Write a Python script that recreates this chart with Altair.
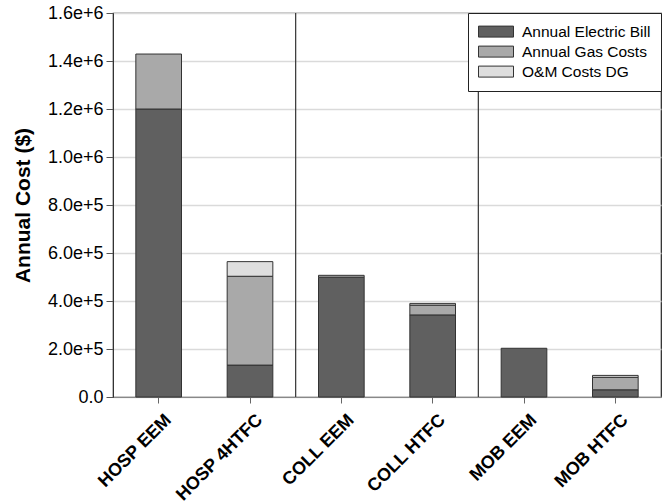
import altair as alt
import pandas as pd

# Scenarios along the x axis (three building types, two options each)
scenarios = ["HOSP EEM", "HOSP 4HTFC", "COLL EEM", "COLL HTFC", "MOB EEM", "MOB HTFC"]

# Annual cost components in dollars
electric_bill = [1200000, 133000, 499000, 342000, 203000, 30000]
gas_costs = [229000, 370000, 8000, 41000, 0, 52000]
om_costs_dg = [0, 61000, 0, 7000, 0, 8000]

components = ["Annual Electric Bill", "Annual Gas Costs", "O&M Costs DG"]
component_colors = ["#606060", "#a9a9a9", "#dedede"]

# Dividers drawn after the last scenario of each building type
group_ends = ["HOSP 4HTFC", "COLL HTFC"]

rows = []
for i, s in enumerate(scenarios):
    for k, (name, vals) in enumerate(zip(components, [electric_bill, gas_costs, om_costs_dg])):
        if vals[i] > 0:
            rows.append({"scenario": s, "component": name, "cost": vals[i], "order": k})
df = pd.DataFrame(rows)
div_df = pd.DataFrame({"scenario": group_ends})

FONT = "Liberation Sans"

x_enc = alt.X(
    "scenario:N",
    sort=scenarios,
    scale=alt.Scale(domain=scenarios, paddingInner=0, paddingOuter=0),
    axis=alt.Axis(
        title=None,
        labelAngle=-45,
        labelAlign="right",
        labelBaseline="middle",
        labelFont=FONT,
        labelFontSize=18,
        labelFontWeight="bold",
        labelColor="black",
        labelPadding=14,
        labelOffset=10,
        labelLimit=300,
        labelOverlap=False,
        tickSize=6,
        tickColor="#666",
        domainColor="#888",
    ),
)

bars = alt.Chart(df).mark_bar(
    width={"band": 0.5}, stroke="#333", strokeWidth=1
).encode(
    x=x_enc,
    y=alt.Y(
        "sum(cost):Q",
        stack="zero",
        scale=alt.Scale(domain=[0, 1600000], nice=False),
        axis=alt.Axis(
            title="Annual Cost ($)",
            titleFont=FONT,
            titleFontSize=21,
            titleFontWeight="bold",
            titleColor="black",
            titleX=-80,
            titleY=192,
            values=[i * 200000 for i in range(9)],
            labelExpr="datum.value == 0 ? '0.0' : format(datum.value, '.1e')",
            labelFont=FONT,
            labelFontSize=18,
            labelColor="black",
            labelPadding=3,
            tickSize=7,
            tickColor="#555",
            domainColor="#333",
            grid=True,
            gridColor="#dadada",
            gridWidth=1.5,
        ),
    ),
    color=alt.Color(
        "component:N",
        scale=alt.Scale(domain=components, range=component_colors),
        legend=alt.Legend(
            title=None,
            orient="top-right",
            offset=0,
            padding=10,
            fillColor="white",
            strokeColor="#222",
            symbolType="M-1,-0.314H1V0.314H-1Z",
            symbolSize=1225,
            symbolStrokeColor="#333",
            symbolStrokeWidth=1,
            symbolOpacity=1,
            labelFont=FONT,
            labelFontSize=15.5,
            labelColor="black",
            labelOffset=8,
            clipHeight=17.2,
            rowPadding=2,
        ),
    ),
    order=alt.Order("order:Q", sort="ascending"),
)

dividers = alt.Chart(div_df).mark_rule(color="#333", strokeWidth=1.2).encode(
    x=alt.X("scenario:N", sort=scenarios, bandPosition=1),
)

chart = alt.layer(bars, dividers).properties(
    width=548,
    height=384,
    padding={"left": 113, "top": 13, "right": 3, "bottom": 107},
    autosize=alt.AutoSizeParams(type="none"),
    background="white",
).configure_view(stroke="#222", strokeWidth=1.2)

chart.save("out.html", embed_options={"renderer": "svg", "actions": False})
